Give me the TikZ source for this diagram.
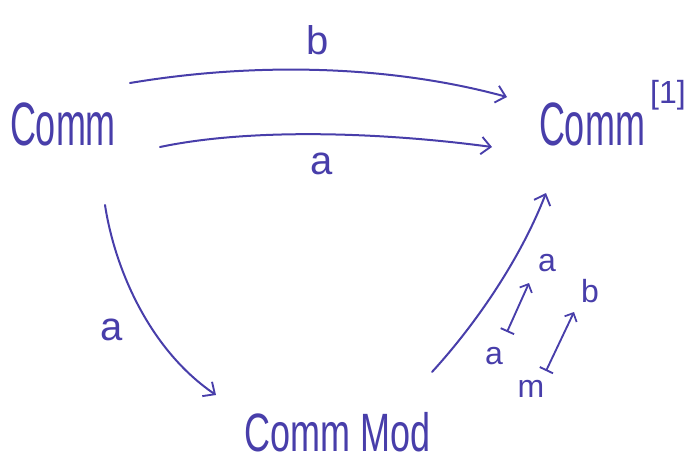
\documentclass[tikz,border=0pt]{standalone}
\usepackage{fontspec}
\setmainfont{Liberation Sans}
\usetikzlibrary{arrows.meta}
\definecolor{ink}{RGB}{72,62,170}
\tikzset{
  obj/.style={inner sep=0pt, text=ink, font=\fontsize{27}{30}\selectfont},
  lbl/.style={inner sep=0pt, text=ink, font=\fontsize{30}{32}\selectfont},
  slbl/.style={inner sep=0pt, text=ink, font=\fontsize{24}{26}\selectfont},
  arr/.style={draw=ink, line width=1.5pt, line cap=round, -{Straight Barb[length=7pt,width=13pt,line width=1.4pt]}},
  marr/.style={draw=ink, line width=1.4pt, line cap=round, {Bar[width=11pt,line width=1.4pt]}-{Straight Barb[length=5pt,width=10pt,line width=1.3pt]}}
}
\begin{document}
\begin{tikzpicture}[x=0.75pt,y=-0.75pt]
\useasboundingbox (0,0) rectangle (697,465);
% objects
\node[obj] (L) at (63,124) {\scalebox{1}[1.7]{Comm}};
\node[obj] (R) at (592,124) {\scalebox{1}[1.7]{Comm}};
\node[slbl] (Rs) at (668,95) {[1]};
\node[obj] (M) at (338,432) {\scalebox{1}[1.5]{Comm Mod}};
% endpoints
\coordinate (bS) at (130,83);
\coordinate (bE) at (507,97);
\coordinate (aS) at (160,147);
\coordinate (aE) at (492,147);
\coordinate (dS) at (105,205);
\coordinate (dE) at (216,395);
\coordinate (uS) at (432,372);
\coordinate (uE) at (546,193);
\coordinate (m1S) at (507,332);
\coordinate (m1E) at (529,283);
\coordinate (m2S) at (546,371);
\coordinate (m2E) at (574,312);
% arrows
\draw[arr] (bS) .. controls (255,62) and (390,65) .. (bE);
\draw[arr] (aS) .. controls (250,128) and (380,132) .. (aE);
\draw[arr] (dS) .. controls (115,270) and (150,350) .. (dE);
\draw[arr] (uS) .. controls (475,325) and (520,260) .. (uE);
\draw[marr] (m1S) -- (m1E);
\draw[marr] (m2S) -- (m2E);
% labels
\node[lbl] (lb) at (318,40) {b};
\node[lbl] (la) at (322,164) {a};
\node[lbl] (ld) at (112,330) {a};
\node[slbl] (l1) at (547,263) {a};
\node[slbl] (l2) at (494,356) {a};
\node[slbl] (l3) at (590,291) {b};
\node[slbl] (l4) at (531,389) {m};
\end{tikzpicture}
\end{document}
